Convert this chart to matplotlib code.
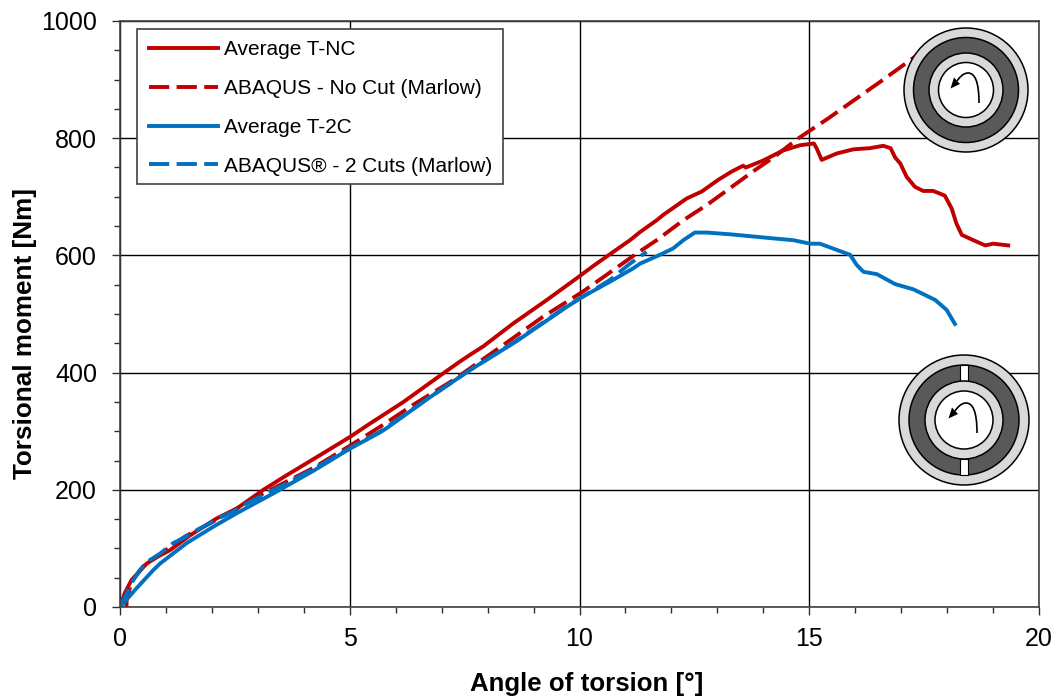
import matplotlib
matplotlib.use("Agg")
import matplotlib.pyplot as plt
from matplotlib.patches import Circle, Rectangle, PathPatch, Polygon
from matplotlib.path import Path

plt.rcParams['font.family'] = ['Liberation Sans', 'DejaVu Sans']

# Values
t_nc_x = [0, 0.1, 0.25, 0.58, 0.8, 1.09, 1.52, 2.1, 2.54, 3.12, 3.63, 4.35, 5, 5.44, 6.17, 7.04, 7.4, 7.65, 7.91,
          8.56, 9.29, 9.94, 10.3, 10.59, 11.1, 11.32, 11.68, 11.82, 12.33, 12.66, 13.02, 13.31, 13.56, 13.62,
          14.0, 14.43, 14.8, 15.1, 15.16, 15.27,
          15.6, 15.96, 16.32, 16.61, 16.77, 16.87, 16.98, 17.12, 17.3, 17.48, 17.7, 17.95, 18.1, 18.2, 18.32,
          18.57, 18.83, 19.0, 19.33]
t_nc_y = [0, 23, 46, 74, 85, 97, 122, 151, 168, 200, 225, 259, 290, 313, 350, 399, 419, 432, 445,
          484, 524, 561, 582, 598, 626, 640, 660, 669, 697, 709, 729, 743, 753, 750,
          762, 779, 788, 791, 783, 763,
          774, 781, 783, 787, 783, 767, 757, 734, 717, 710, 710, 702, 680, 655, 635,
          626, 617, 620, 617]

abaqus_nc_x = [0.14, 0.145, 0.25, 0.5, 0.94, 1.41, 1.96, 2.47, 3.05, 4.2, 5, 5.73, 6.38, 7.25, 8.34, 9.2, 10.07,
               11.24, 11.68, 12.26, 12.77, 13.28, 13.79, 14.22, 14.73, 15.38, 16.54, 17.23, 17.4]
abaqus_nc_y = [0, 12, 43, 69, 94, 120, 143, 165, 191, 237, 275, 311, 345, 387, 447, 495, 538,
               603, 626, 660, 686, 715, 744, 767, 798, 832, 896, 935, 945]

t_2c_x = [0, 0.36, 0.725, 0.87, 1.45, 2.03, 2.54, 3.41, 4.2, 5, 5.66, 5.8, 6.67, 7.61, 8.62, 9.72, 10.08, 10.66,
          11.17, 11.32, 11.75, 12.04, 12.26, 12.51, 12.77, 13.28, 14.22, 14.65, 15.02, 15.23, 15.89, 16.03, 16.18,
          16.47, 16.87, 17.27, 17.74, 17.99, 18.17]
t_2c_y = [0, 32, 63, 74, 109, 137, 160, 197, 232, 270, 298, 305, 354, 404, 453, 512, 530, 555,
          578, 586, 601, 612, 626, 639, 639, 636, 629, 626, 620, 620, 601, 584, 572,
          568, 551, 542, 524, 507, 483]

abaqus_2c_x = [0, 0.29, 0.43, 0.65, 0.87, 1.16, 1.41, 1.67, 1.96, 2.18, 2.47, 2.76, 2.97, 3.26, 3.55, 4.2, 5, 5.66,
               6.67, 7.61, 8.62, 9.72, 10.08, 10.66, 11.1, 11.46]
abaqus_2c_y = [0, 46, 63, 80, 91, 109, 119, 131, 143, 153, 163, 177, 185, 197, 208, 235, 271, 299,
               354, 404, 454, 513, 530, 558, 586, 606]

labels = ['Average T-NC', 'ABAQUS - No Cut (Marlow)', 'Average T-2C', 'ABAQUS® - 2 Cuts (Marlow)']
red = '#C00000'
blue = '#0070C0'
dash = (0, (5.2, 1.9))

W, H = 1059, 700
fig = plt.figure(figsize=(W / 100, H / 100), dpi=100)
ax = fig.add_axes([120 / W, 1 - 607 / H, (1039 - 120) / W, (607 - 21) / H])

ax.plot(t_nc_x, t_nc_y, color=red, lw=2.8, label=labels[0], zorder=3)
ax.plot(abaqus_nc_x, abaqus_nc_y, color=red, lw=2.8, ls=dash, label=labels[1], zorder=3.1)
ax.plot(t_2c_x, t_2c_y, color=blue, lw=2.8, label=labels[2], zorder=3.2)
ax.plot(abaqus_2c_x, abaqus_2c_y, color=blue, lw=2.8, ls=dash, label=labels[3], zorder=3.3)

ax.set_xlim(0, 20)
ax.set_ylim(0, 1000)
ax.set_xticks([0, 5, 10, 15, 20])
ax.set_yticks([0, 200, 400, 600, 800, 1000])
ax.set_xticks(range(0, 21), minor=True)
ax.set_yticks(range(0, 1001, 50), minor=True)
ax.grid(True, which='major', color='black', lw=1.0)
ax.set_axisbelow(True)
ax.tick_params(which='major', length=6, width=1.0, color='#303030', labelsize=18)
ax.tick_params(axis='y', which='major', pad=10.5)
ax.tick_params(axis='x', which='major', pad=8.5)
ax.tick_params(which='minor', length=4.3, width=1.0, color='#303030')
for s in ax.spines.values():
    s.set_color('#404040')
    s.set_linewidth(1.2)
    s.set_zorder(5)

ax.set_xlabel('Angle of torsion [°]', fontsize=18.6, fontweight='bold', x=(587 - 120) / 919, labelpad=14.7)
ax.set_ylabel('Torsional moment [Nm]', fontsize=18.8, fontweight='bold', y=(607 - 333.5) / 586, labelpad=3)

# legend frame is a separate box so its padding can differ per side
ax.add_patch(Rectangle((16.5 / 919, 1 - 163 / 586), 366.5 / 919, 155.3 / 586, transform=ax.transAxes,
                       fc='white', ec='#404040', lw=1.2, zorder=4))
leg = ax.legend(loc='upper left', bbox_to_anchor=(29 / 919, 1 - 19.2 / 586), borderaxespad=0,
                fontsize=15.05, frameon=False, borderpad=0,
                handlelength=3.3, handletextpad=0.28, labelspacing=0.95)
leg.set_zorder(6)

# Cross-section icons drawn in pixel coordinates on a transparent overlay
ov = fig.add_axes([0, 0, 1, 1], zorder=10)
ov.set_xlim(0, W)
ov.set_ylim(H, 0)
ov.axis('off')
ov.patch.set_alpha(0)


def draw_icon(cx, cy, r1, r2, r3, r4, slots=False):
    k = dict(ec='black', lw=1.1)
    ov.add_patch(Circle((cx, cy), r1, fc='#D9D9D9', **k))
    ov.add_patch(Circle((cx, cy), r2, fc='#595959', **k))
    if slots:
        ov.add_patch(Rectangle((cx - 4, cy - r2), 8, r2 - r3, fc='white', ec='black', lw=0.8))
        ov.add_patch(Rectangle((cx - 4, cy + r3), 8, r2 - r3, fc='white', ec='black', lw=0.8))
    ov.add_patch(Circle((cx, cy), r3, fc='#D9D9D9', **k))
    ov.add_patch(Circle((cx, cy), r4, fc='white', **k))
    # torsion arrow
    p = Path([(cx + 13, cy + 13), (cx + 13, cy - 8), (cx + 9, cy - 17), (cx + 2, cy - 17),
              (cx - 3, cy - 17), (cx - 7, cy - 12), (cx - 9, cy - 9)],
             [Path.MOVETO, Path.CURVE4, Path.CURVE4, Path.CURVE4, Path.CURVE4, Path.CURVE4, Path.CURVE4])
    ov.add_patch(PathPatch(p, fc='none', ec='black', lw=1.2))
    ov.add_patch(Polygon([(cx - 15.5, cy - 1.5), (cx - 12, cy - 12.5), (cx - 6, cy - 6)], fc='black', ec='none'))


draw_icon(966, 90, 62, 52.5, 37, 27.5)
draw_icon(964, 420, 65, 55, 39, 29, slots=True)

fig.savefig('out.png', dpi=100)
